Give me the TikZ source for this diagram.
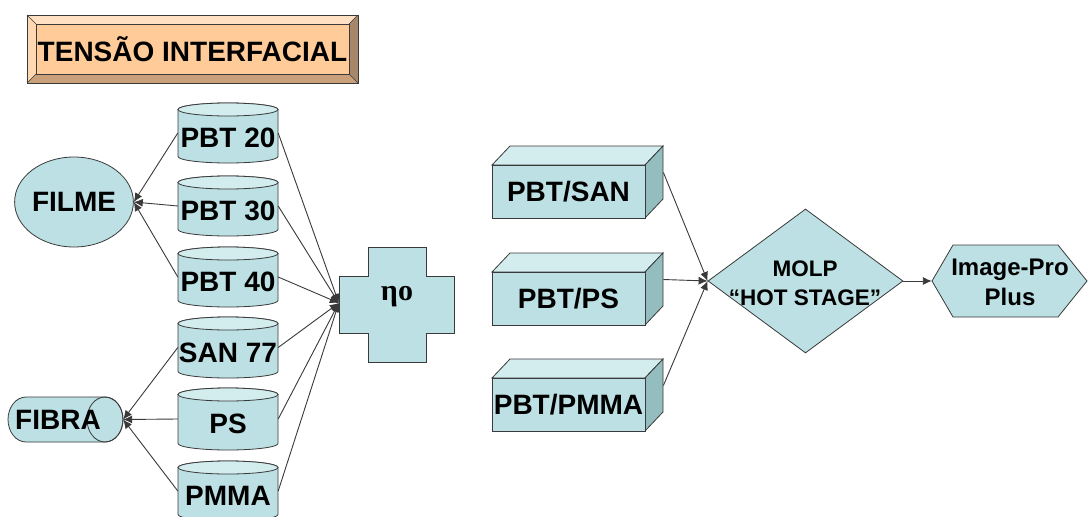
\documentclass[tikz,border=0pt]{standalone}
\usepackage{fontspec}
\setmainfont{Liberation Sans}
\newfontfamily\greekfont{Liberation Serif}
\usetikzlibrary{shapes.geometric,arrows.meta}

\definecolor{cyan1}{HTML}{BCE0E3}
\definecolor{cyanlight}{HTML}{D3EDEF}
\definecolor{cyandark}{HTML}{94BDC0}
\definecolor{edge}{HTML}{3A3A3A}
\definecolor{peach}{HTML}{FFCC99}
\definecolor{peachlight}{HTML}{FFE0C2}
\definecolor{peachleft}{HTML}{FFD7B0}
\definecolor{peachdark}{HTML}{A6876A}
\definecolor{peachbottom}{HTML}{C9A07A}

\tikzset{
  outline/.style={draw=edge, line width=0.8pt, line join=miter},
  drumside/.style={outline, fill=cyan1},
  drumtop/.style={outline, fill=cyanlight},
  anchorbox/.style={rectangle, draw=none, fill=none, inner sep=0pt},
  bigtext/.style={font=\fontsize{28}{30}\selectfont\bfseries, inner sep=0pt},
  midtext/.style={font=\fontsize{22.5}{29}\selectfont\bfseries, inner sep=0pt, align=center},
  ipptext/.style={font=\fontsize{24}{30}\selectfont\bfseries, inner sep=0pt, align=center},
  link/.style={draw=edge, line width=0.9pt, -{Latex[length=9pt,width=8pt]}},
}

% vertical drum: name, top y (downwards), height, label
\newcommand\drumnode[4]{%
  \pgfmathsetmacro\drumtopy{-#2}%
  \pgfmathsetmacro\drumboty{-#2-#3}%
  \filldraw[drumside] (178,\drumtopy-6.5) -- (178,\drumboty+6.5)
     arc[start angle=180,end angle=360,x radius=50,y radius=6.5]
     -- (278,\drumtopy-6.5)
     arc[start angle=0,end angle=180,x radius=50,y radius=6.5] -- cycle;
  \filldraw[drumtop] (228,\drumtopy-6.5) ellipse[x radius=50,y radius=6.5];
  \node[anchorbox, minimum width=100pt, minimum height=#3pt] (#1) at (228,{(\drumtopy+\drumboty)/2}) {};
  \node[bigtext] (#1-t) at (228,{(\drumtopy+\drumboty)/2-5}) {#4};
}

% cuboid: name, top y of front face (downwards), label
\newcommand\cubenode[3]{%
  \pgfmathsetmacro\cubetopy{-#2}%
  \filldraw[outline, fill=cyanlight] (492,\cubetopy) -- (510,\cubetopy+19) -- (663,\cubetopy+19) -- (645,\cubetopy) -- cycle;
  \filldraw[outline, fill=cyandark] (645,\cubetopy) -- (663,\cubetopy+19) -- (663,\cubetopy-34) -- (645,\cubetopy-53) -- cycle;
  \node[outline, fill=cyan1, rectangle, minimum width=153pt, minimum height=53pt, inner sep=0pt,
        font=\fontsize{28}{30}\selectfont\bfseries] (#1) at (568.5,\cubetopy-26.5) {#3};
}

\begin{document}
\begin{tikzpicture}[x=1pt,y=1pt]
\useasboundingbox (0,0) rectangle (1088,-517);
\fill[white] (0,0) rectangle (1088,-517);

% bevelled title plate
\fill[peachlight] (27,-15) -- (358,-15) -- (349,-24) -- (36,-24) -- cycle;
\fill[peachleft] (27,-15) -- (36,-24) -- (36,-74) -- (27,-83) -- cycle;
\fill[peachdark] (358,-15) -- (358,-83) -- (349,-74) -- (349,-24) -- cycle;
\fill[peachbottom] (27,-83) -- (36,-74) -- (349,-74) -- (358,-83) -- cycle;
\draw[edge, line width=0.6pt] (27,-15) -- (36,-24) (358,-15) -- (349,-24)
   (27,-83) -- (36,-74) (358,-83) -- (349,-74);
\draw[outline] (27,-15) rectangle (358,-83);
\node[outline, fill=peach, minimum width=313pt, minimum height=50pt, inner sep=0pt,
      font=\fontsize{28}{30}\selectfont\bfseries] (title) at (192.5,-49) {TENSÃO INTERFACIAL};

% film and fibre
\node[ellipse, outline, fill=cyan1, minimum width=114pt, minimum height=90pt, inner sep=0pt,
      font=\fontsize{28}{30}\selectfont\bfseries] (filme) at (74,-202) {FILME};

\filldraw[drumside] (105,-397) -- (26,-397)
   arc[start angle=90,end angle=270,x radius=18,y radius=22.5]
   -- (105,-442)
   arc[start angle=-90,end angle=90,x radius=18,y radius=22.5] -- cycle;
\draw[outline] (105,-419.5) ellipse[x radius=18,y radius=22.5];
\node[anchorbox, minimum width=115pt, minimum height=45pt] (fibra) at (65.5,-419.5) {};
\node[bigtext] (fibra-t) at (58,-420) {FIBRA};

% polymer drums
\drumnode{p20}{103}{60}{PBT 20}
\drumnode{p30}{176}{60}{PBT 30}
\drumnode{p40}{247}{60}{PBT 40}
\drumnode{san}{317}{61}{SAN 77}
\drumnode{ps}{388}{62}{PS}
\drumnode{pmma}{461}{60}{PMMA}

% viscosity cross
\filldraw[outline, fill=cyan1] (368,-247) -- (426,-247) -- (426,-276) -- (454,-276) -- (454,-333)
   -- (426,-333) -- (426,-362) -- (368,-362) -- (368,-333) -- (339,-333) -- (339,-276)
   -- (368,-276) -- cycle;
\node[anchorbox, minimum width=115pt, minimum height=115pt] (eta) at (396.5,-303) {};
\node[font=\fontsize{30}{32}\selectfont\greekfont\bfseries, inner sep=0pt] (eta-t) at (397,-297) {ηo};

% blends
\cubenode{bsan}{165}{PBT/SAN}
\cubenode{bps}{272}{PBT/PS}
\cubenode{bpmma}{378}{PBT/PMMA}

% hot stage and image analysis
\node[diamond, outline, fill=cyan1, minimum width=195pt, minimum height=144pt, inner sep=0pt] (molp) at (805.5,-281) {};
\node[midtext] (molp-t) at (805,-283) {MOLP\\“HOT STAGE”};

\filldraw[outline, fill=cyan1] (932,-281) -- (953,-245) -- (1058,-245) -- (1087,-281)
   -- (1058,-317) -- (953,-317) -- cycle;
\node[anchorbox, minimum width=155pt, minimum height=72pt] (ipp) at (1009.5,-281) {};
\node[ipptext] (ipp-t) at (1010,-282) {Image-Pro\\Plus};

% connectors
\foreach \d in {p20,p30,p40} \draw[link] (\d.west) -- (filme.east);
\foreach \d in {san,ps,pmma} \draw[link] (\d.west) -- (fibra.east);
\foreach \d in {p20,p30,p40,san,ps,pmma} \draw[link] (\d.east) -- (eta.west);
\foreach \b in {bsan,bps,bpmma} \draw[link] ([xshift=18pt,yshift=19pt]\b.east) -- (molp.west);
\draw[link] (molp.east) -- (ipp.west);
\end{tikzpicture}
\end{document}
